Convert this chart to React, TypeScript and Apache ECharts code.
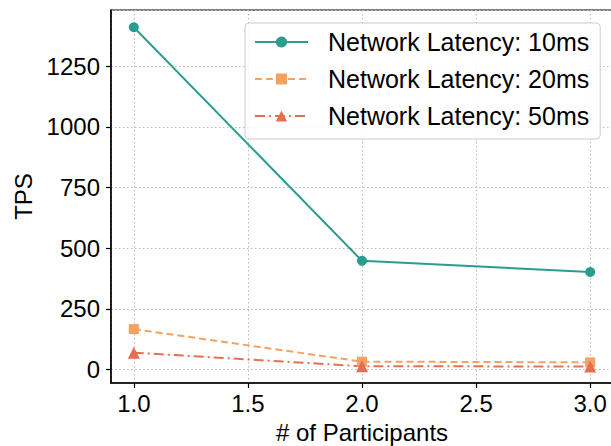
import React, { useEffect, useRef } from "react";
import * as echarts from "echarts";

const participants = [1.0, 2.0, 3.0];
const latency10 = [1410, 448, 402];
const latency20 = [167, 33, 30];
const latency50 = [70, 14, 13];
const seriesNames = ["Network Latency: 10ms", "Network Latency: 20ms", "Network Latency: 50ms"];
const colors = ["#2a9d8f", "#f4a261", "#e76f51"];

const FONT = "Liberation Sans, Arial, Helvetica, sans-serif";

export default function App() {
  const ref = useRef<HTMLDivElement>(null);
  useEffect(() => {
    if (!ref.current) return;
    const chart = echarts.init(ref.current, null, { renderer: "svg" });
    const toPairs = (vals: number[]) => participants.map((x, i) => [x, vals[i]]);
    chart.setOption({
      animation: false,
      textStyle: { fontFamily: FONT },
      grid: {
        left: 111,
        top: 10,
        width: 502,
        height: 373,
        outerBoundsMode: "none",
        containLabel: false,
        show: true,
        borderColor: "#000",
        borderWidth: 1.2,
        backgroundColor: "transparent",
      },
      legend: {
        orient: "vertical",
        left: 245,
        top: 23,
        padding: [5, 11, 9, 9],
        itemWidth: 53,
        itemHeight: 14,
        itemGap: 9,
        backgroundColor: "rgba(255,255,255,0.85)",
        borderColor: "#cccccc",
        borderWidth: 1,
        borderRadius: 4,
        textStyle: {
          fontSize: 25,
          color: "#000",
          fontFamily: FONT,
          lineHeight: 28,
          padding: [0, 0, 0, 15],
        },
        data: seriesNames,
      },
      xAxis: {
        type: "value",
        min: 0.9,
        max: 3.1,
        minInterval: 0.5,
        maxInterval: 0.5,
        name: "# of Participants",
        nameLocation: "middle",
        nameGap: 37,
        nameTextStyle: { fontSize: 24, color: "#000", fontFamily: FONT },
        axisLine: { show: true, onZero: false, lineStyle: { color: "#000", width: 1.5 } },
        axisTick: { show: true, length: 5, lineStyle: { color: "#000", width: 1.2 } },
        axisLabel: {
          fontSize: 24,
          color: "#000",
          margin: 8,
          showMinLabel: false,
          showMaxLabel: false,
          formatter: (v: number) => v.toFixed(1),
        },
        splitLine: { show: true, lineStyle: { color: "#bbbbbb", type: [1.5, 2.5], width: 1 } },
      },
      yAxis: {
        type: "value",
        min: -55,
        max: 1481,
        minInterval: 250,
        maxInterval: 250,
        name: "TPS",
        nameLocation: "middle",
        nameGap: 72,
        nameTextStyle: { fontSize: 24, color: "#000", fontFamily: FONT },
        axisLine: { show: true, onZero: false, lineStyle: { color: "#000", width: 1.5 } },
        axisTick: { show: true, length: 5, lineStyle: { color: "#000", width: 1.2 } },
        axisLabel: {
          fontSize: 24,
          color: "#000",
          margin: 11,
          showMinLabel: false,
          showMaxLabel: false,
          formatter: (v: number) => String(Math.round(v)),
        },
        splitLine: { show: true, lineStyle: { color: "#bbbbbb", type: [1.5, 2.5], width: 1 } },
      },
      series: [
        {
          name: seriesNames[0],
          type: "line",
          data: toPairs(latency10),
          symbol: "circle",
          symbolSize: 10,
          color: colors[0],
          lineStyle: { color: colors[0], width: 2, type: "solid" },
          itemStyle: { color: colors[0] },
        },
        {
          name: seriesNames[1],
          type: "line",
          data: toPairs(latency20),
          symbol: "rect",
          symbolSize: 10,
          color: colors[1],
          lineStyle: { color: colors[1], width: 2, type: [7, 4] },
          itemStyle: { color: colors[1] },
        },
        {
          name: seriesNames[2],
          type: "line",
          data: toPairs(latency50),
          symbol: "triangle",
          symbolSize: 12,
          color: colors[2],
          lineStyle: { color: colors[2], width: 2, type: [10, 4, 2, 4] },
          itemStyle: { color: colors[2] },
        },
      ],
    });
    return () => chart.dispose();
  }, []);
  return <div ref={ref} style={{ width: 611, height: 446, position: "absolute", left: 0, top: 0 }} />;
}
